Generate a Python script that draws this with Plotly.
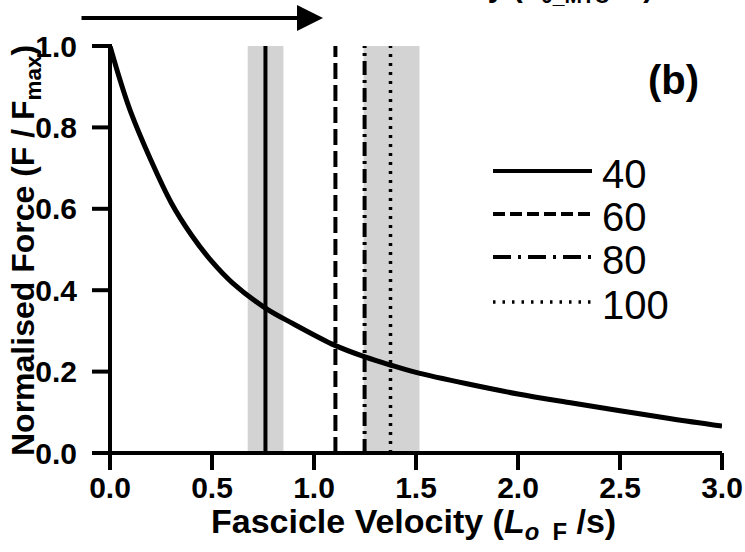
import plotly.graph_objects as go

# ---- data ----
velocity = [0, 0.05, 0.1, 0.2, 0.3, 0.4, 0.5, 0.6, 0.762, 0.9, 1.1, 1.25, 1.375, 1.5, 1.75, 2.0, 2.25, 2.5, 2.75, 3.0]
force = [1.0, 0.915, 0.84, 0.72, 0.615, 0.535, 0.47, 0.418, 0.356, 0.317, 0.265, 0.236, 0.216, 0.198, 0.17, 0.145, 0.124, 0.104, 0.084, 0.066]

band_ranges = [(0.675, 0.85), (1.243, 1.517)]
line_labels = ["40", "60", "80", "100"]
line_velocity = [0.762, 1.105, 1.248, 1.375]
line_dashes = ["solid", "16px,6px", "14px,5px,3px,5px", "3px,6px"]
line_widths = [4, 4, 4, 3.5]
legend_dashes = ["solid", "12px,5px", "18px,7px,3px,7px", "2.5px,7px"]

x_range = [0, 3]
y_range = [0, 1]
x_ticks = [0, 0.5, 1.0, 1.5, 2.0, 2.5, 3.0]
y_ticks = [0, 0.2, 0.4, 0.6, 0.8, 1.0]

W, H = 745, 552
L, R, T, B = 110, 23, 46, 99
PW, PH = W - L - R, H - T - B

fig = go.Figure()

# grey bands
for lo, hi in band_ranges:
    fig.add_shape(type="rect", xref="x", yref="y", x0=lo, x1=hi, y0=0, y1=1,
                  fillcolor="#d3d3d3", line_width=0, layer="below")

# vertical lines
for lab, v, d, w in zip(line_labels, line_velocity, line_dashes, line_widths):
    fig.add_trace(go.Scatter(x=[v, v], y=[0, 1], mode="lines",
                             line=dict(color="black", width=w, dash=d),
                             cliponaxis=False, showlegend=False, name=lab))

# force-velocity curve
fig.add_trace(go.Scatter(x=velocity, y=force, mode="lines",
                         line=dict(color="black", width=5, shape="spline", smoothing=1),
                         cliponaxis=False, showlegend=False))

# paper-coordinate helpers (plot area spans paper 0..1)
def px_x(p):
    return (p - L) / PW

def px_y(p):
    return (H - B - p) / PH

def xp(v):
    return (v - x_range[0]) / (x_range[1] - x_range[0])

def yp(v):
    return (v - y_range[0]) / (y_range[1] - y_range[0])

# axis lines and tick marks as paper shapes
fig.add_shape(type="line", xref="paper", yref="paper", x0=xp(x_range[0]) - 2 / PW, x1=xp(x_range[1]),
              y0=yp(y_range[0]), y1=yp(y_range[0]), line=dict(color="black", width=4))
fig.add_shape(type="line", xref="paper", yref="paper", x0=xp(x_range[0]), x1=xp(x_range[0]),
              y0=yp(y_range[0]) - 2 / PH, y1=yp(y_range[1]), line=dict(color="black", width=4))
for t in x_ticks:
    fig.add_shape(type="line", xref="paper", yref="paper", x0=xp(t), x1=xp(t),
                  y0=yp(y_range[0]), y1=yp(y_range[0]) - 17 / PH,
                  line=dict(color="black", width=4))
for t in y_ticks:
    fig.add_shape(type="line", xref="paper", yref="paper", x0=xp(x_range[0]) + 2 / PW,
                  x1=xp(x_range[0]) - 18 / PW, y0=yp(t), y1=yp(t),
                  line=dict(color="black", width=4))

# legend (drawn manually)
leg_y = [171, 214, 257, 302]
for lab, y, d, w in zip(line_labels, leg_y, legend_dashes, line_widths):
    fig.add_shape(type="line", xref="paper", yref="paper",
                  x0=px_x(493), x1=px_x(592), y0=px_y(y), y1=px_y(y),
                  line=dict(color="black", width=w, dash=d))
    fig.add_annotation(xref="paper", yref="paper", x=px_x(600), y=px_y(y + 3),
                       xanchor="left", yanchor="middle", text=lab, showarrow=False,
                       font=dict(family="Liberation Sans, Arial", size=40, color="black"))

# panel label
fig.add_annotation(xref="paper", yref="paper", x=px_x(673), y=px_y(80),
                   xanchor="center", yanchor="middle", text="<b>(b)</b>", showarrow=False,
                   font=dict(family="Liberation Sans, Arial", size=40, color="black"))

# top arrow
fig.add_annotation(xref="paper", yref="paper", x=px_x(323), y=px_y(18),
                   ax=-243, ay=0, axref="pixel", ayref="pixel",
                   showarrow=True, arrowhead=2, arrowsize=1.3, arrowwidth=4,
                   arrowcolor="black", text="")

# cut-off top text
fig.add_annotation(xref="paper", yref="paper", x=px_x(522), y=px_y(9),
                   xanchor="center", yanchor="bottom", showarrow=False,
                   text="<b>Velocity (L<sub>0_MTU</sub> /s)</b>",
                   font=dict(family="Liberation Sans, Arial", size=30, color="black"))

# axis titles
fig.add_annotation(xref="paper", yref="paper", x=px_x(413), y=px_y(523),
                   xanchor="center", yanchor="middle", showarrow=False,
                   text="<b>Fascicle Velocity (<i>L</i><sub><i>o</i>  F</sub> /s)</b>",
                   font=dict(family="Liberation Sans, Arial", size=34, color="black"))
fig.add_annotation(xref="paper", yref="paper", x=px_x(25), y=px_y(251),
                   xanchor="center", yanchor="middle", showarrow=False, textangle=-90,
                   text="<b>Normalised Force (F / F<sub>max</sub>)</b>",
                   font=dict(family="Liberation Sans, Arial", size=32, color="black"))

axis_font = dict(family="Liberation Sans, Arial", size=30, color="black", weight="bold")
fig.update_xaxes(range=x_range, tickvals=x_ticks, ticktext=[f"{t:.1f}" for t in x_ticks],
                 showline=False, showgrid=False, zeroline=False,
                 ticks="outside", ticklen=8, tickwidth=4, tickcolor="rgba(0,0,0,0)",
                 tickfont=axis_font, ticklabeloverflow="allow")
fig.update_yaxes(range=y_range, tickvals=y_ticks, ticktext=[f"{t:.1f}" for t in y_ticks],
                 showline=False, showgrid=False, zeroline=False,
                 ticks="outside", ticklen=18, tickwidth=4, tickcolor="rgba(0,0,0,0)",
                 tickfont=axis_font, ticklabeloverflow="allow", ticklabelstandoff=8)

fig.update_layout(template="none", width=W, height=H,
                  margin=dict(l=L, r=R, t=T, b=B, autoexpand=False),
                  paper_bgcolor="white", plot_bgcolor="white", showlegend=False)

fig.write_html("out.html", config={"displayModeBar": False},
               post_script="document.body.style.margin='0';document.body.style.overflow='hidden';")
